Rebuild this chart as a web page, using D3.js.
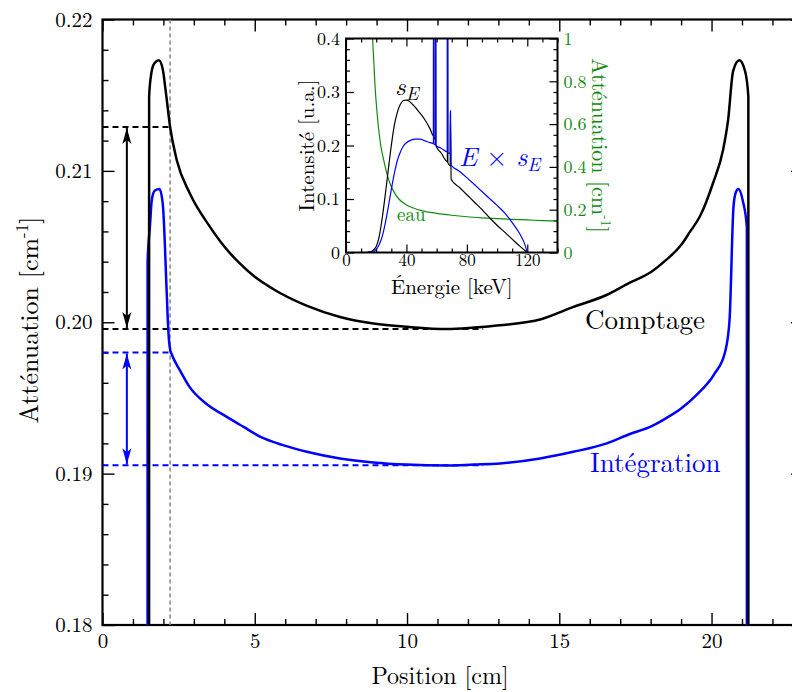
<!DOCTYPE html>
<html><head><meta charset="utf-8">
<script src="https://cdn.jsdelivr.net/npm/d3@7"></script>
<style>
body{margin:0;background:#fff}
svg{display:block}
</style>
</head><body>
<svg id="c" width="792" height="692"></svg>
<script>
// ---------- main chart data: [position cm, attenuation cm^-1] ----------
const comptage = [
  [1.53,0.18],[1.531,0.2149],[1.6,0.2164],[1.7,0.2171],[1.85,0.2173],[1.98,0.2167],[2.08,0.2152],[2.22,0.2129],
  [2.44,0.2107],[2.87,0.2085],[3.53,0.2063],[4.0,0.2050],[4.5,0.2039],[5.0,0.2030],[5.6,0.2022],
  [6.7,0.2011],[7.8,0.20035],[8.9,0.19992],[10.0,0.1997],[11.3,0.19955],[12.2,0.19965],[13.05,0.1998],
  [14.4,0.2002],[15.45,0.2010],[16.55,0.2018],[17.3,0.2026],[18.0,0.2033],[18.5,0.2041],[19.0,0.2051],
  [19.3,0.2060],[19.62,0.2070],[20.05,0.2092],[20.38,0.2114],[20.54,0.2133],[20.71,0.2166],[20.91,0.2173],
  [21.1,0.2166],[21.209,0.2149],[21.21,0.18]
];
const integration = [
  [1.48,0.18],[1.481,0.2040],[1.56,0.2064],[1.62,0.2081],[1.72,0.2087],[1.87,0.2088],[1.98,0.2078],[2.11,0.2019],
  [2.16,0.1995],[2.22,0.1982],[2.27,0.1979],[2.55,0.1968],[2.87,0.1957],[3.42,0.1946],[4.08,0.19375],
  [4.62,0.1931],[5.17,0.19245],[5.6,0.1921],[6.2,0.19172],[6.71,0.19144],[7.8,0.1910],[8.89,0.19074],[9.99,0.1906],
  [11.3,0.19054],[12.18,0.1906],[13.05,0.19067],[14.37,0.1910],[15.46,0.19144],[16.56,0.1920],[17.32,0.19262],
  [18.0,0.1931],[18.5,0.19365],[19.0,0.1943],[19.51,0.1952],[20.1,0.1966],[20.44,0.1980],[20.59,0.2001],
  [20.72,0.2076],[20.8,0.2086],[20.88,0.2088],[21.03,0.2080],[21.159,0.2063],[21.16,0.18]
];
const xMajor = [0,5,10,15,20];
const yMajor = [0.18,0.19,0.20,0.21,0.22];
const edgePosition = 2.22;          // vertical grey dashed marker
const arrowPosition = 0.8;          // where the double arrows sit
const comptageLevels = [0.2129,0.19955];
const integrationLevels = [0.1980,0.19055];
const levelLineEnd = 12.5;

// ---------- inset data: [energy keV, value] ----------
const sE = [
  [13.5,0],[17,0.002],[20,0.011],[22,0.03],[24,0.065],[26,0.108],[28,0.155],[30,0.2],[32,0.238],[34,0.262],
  [36,0.277],[38,0.284],[39.5,0.285],[41,0.284],[44,0.277],[48,0.264],[52,0.249],[55.5,0.232],[57.9,0.218],
  [57.95,0.5],[58.05,0.5],[58.1,0.216],[59.2,0.212],[59.25,0.5],[59.35,0.5],[59.5,0.2],[63,0.186],[67.1,0.17],
  [67.15,0.5],[67.3,0.5],[67.4,0.168],[69.0,0.162],[69.05,0.25],[69.2,0.25],[69.6,0.137],[75,0.122],[80,0.108],
  [85,0.094],[90,0.08],[95,0.065],[100,0.051],[105,0.038],[110,0.025],[115,0.012],[120,0]
];
const EsE = [
  [14,0],[18,0.002],[20,0.006],[22,0.015],[24,0.03],[26,0.055],[28,0.085],[30,0.118],[32,0.148],[34,0.172],
  [36,0.188],[38,0.199],[40,0.205],[43,0.21],[46,0.212],[49,0.212],[52,0.209],[55,0.206],[57.9,0.204],
  [57.95,0.5],[58.05,0.5],[58.1,0.203],[59.2,0.202],[59.25,0.5],[59.35,0.5],[59.5,0.2],[63,0.195],[67.1,0.188],
  [67.15,0.5],[67.3,0.5],[67.4,0.187],[69.0,0.185],[69.05,0.265],[69.2,0.265],[69.4,0.164],[75,0.152],
  [80,0.14],[85,0.127],[90,0.114],[95,0.101],[100,0.088],[105,0.074],[110,0.056],[115,0.035],[118,0.018],[120,0]
];
const waterMu = [
  [17.3,1.05],[17.8,0.97],[18.5,0.88],[19.2,0.78],[20,0.7],[21.4,0.59],[23,0.5],[25,0.43],[27,0.37],[29,0.325],
  [32,0.28],[35,0.25],[40,0.222],[45,0.207],[50,0.196],[60,0.183],[70,0.174],[80,0.167],[90,0.162],
  [100,0.158],[110,0.155],[120,0.152],[130,0.149],[140,0.147]
];
const insetXMajor = [0,40,80,120];
const insetYMajor = [0,0.1,0.2,0.3,0.4];
const insetY2Major = [0,0.2,0.4,0.6,0.8,1];

const FONT = "'Latin Modern Roman', 'Liberation Serif', serif";
const BLUE = "#0000ff", GREEN = "#118a11";
const svg = d3.select("#c");
svg.append("rect").attr("width",792).attr("height",692).attr("fill","#fff");

const x = d3.scaleLinear().domain([0,23]).range([102.5,802.9]);
const y = d3.scaleLinear().domain([0.18,0.22]).range([625,19.5]);

const defs = svg.append("defs");
defs.append("clipPath").attr("id","clipMain")
  .append("rect").attr("x",x(0)).attr("y",y(0.22)).attr("width",x(23)-x(0)).attr("height",y(0.18)-y(0.22));

function arrowMarker(id,color){
  defs.append("marker").attr("id",id).attr("viewBox","0 -5 16 10").attr("refX",16).attr("refY",0)
    .attr("markerWidth",16).attr("markerHeight",10).attr("markerUnits","userSpaceOnUse").attr("orient","auto-start-reverse")
    .append("path").attr("d","M0,-4.5L16,0L0,4.5L4,0Z").attr("fill",color);
}
arrowMarker("arK","#000"); arrowMarker("arB",BLUE);

// ---------- main axes ----------
function styleAxis(g){ g.attr("font-family",null).select(".domain").remove(); g.selectAll(".tick line").attr("stroke","#000").attr("stroke-width",1.4); }
const xMinor = d3.range(0,24,1).filter(v=>!xMajor.includes(v));
const yMinor = d3.range(0,21).map(i=>0.18+i*0.002).filter(v=>Math.abs(Math.round(v*100)-v*100)>1e-6);

svg.append("g").attr("transform",`translate(0,${y(0.18)})`)
  .call(d3.axisBottom(x).tickValues(xMajor).tickSize(-12).tickPadding(8).tickFormat(d3.format("d")))
  .call(styleAxis).selectAll("text").attr("font-size",21).attr("fill","#000");
svg.append("g").attr("transform",`translate(0,${y(0.18)})`)
  .call(d3.axisBottom(x).tickValues(xMinor).tickSize(-6).tickFormat("")).call(styleAxis);
svg.append("g").attr("transform",`translate(0,${y(0.22)})`)
  .call(d3.axisTop(x).tickValues(xMajor).tickSize(-12).tickFormat("")).call(styleAxis);
svg.append("g").attr("transform",`translate(0,${y(0.22)})`)
  .call(d3.axisTop(x).tickValues(xMinor).tickSize(-6).tickFormat("")).call(styleAxis);
svg.append("g").attr("transform",`translate(${x(0)},0)`)
  .call(d3.axisLeft(y).tickValues(yMajor).tickSize(-12).tickPadding(10).tickFormat(d3.format(".2f")))
  .call(styleAxis).selectAll("text").attr("font-size",21).attr("fill","#000");
svg.append("g").attr("transform",`translate(${x(0)},0)`)
  .call(d3.axisLeft(y).tickValues(yMinor).tickSize(-6).tickFormat("")).call(styleAxis);
svg.append("g").attr("transform",`translate(${x(23)},0)`)
  .call(d3.axisRight(y).tickValues(yMajor).tickSize(-12).tickFormat("")).call(styleAxis);
svg.append("g").attr("transform",`translate(${x(23)},0)`)
  .call(d3.axisRight(y).tickValues(yMinor).tickSize(-6).tickFormat("")).call(styleAxis);

svg.append("rect").attr("x",x(0)).attr("y",y(0.22)).attr("width",x(23)-x(0)).attr("height",y(0.18)-y(0.22))
  .attr("fill","none").attr("stroke","#000").attr("stroke-width",2.2);

// axis titles
svg.append("text").attr("x",440).attr("y",684).attr("text-anchor","middle").attr("font-size",24).text("Position [cm]");
const yt = svg.append("text").attr("transform","translate(38,320) rotate(-90)").attr("text-anchor","middle").attr("font-size",26);
yt.append("tspan").text("Atténuation [cm");
yt.append("tspan").attr("font-size",17).attr("dy",-10).text("-1");
yt.append("tspan").attr("dy",10).text("]");

// ---------- reference lines ----------
const main = svg.append("g").attr("clip-path","url(#clipMain)");
main.append("line").attr("x1",x(edgePosition)).attr("x2",x(edgePosition)).attr("y1",y(0.22)).attr("y2",y(0.18))
  .attr("stroke","#8a8a8a").attr("stroke-width",1.6).attr("stroke-dasharray","4,3");
function level(v,xEnd,color){
  main.append("line").attr("x1",x(0)).attr("x2",x(xEnd)).attr("y1",y(v)).attr("y2",y(v))
    .attr("stroke",color).attr("stroke-width",2).attr("stroke-dasharray","6,4");
}
level(comptageLevels[0],edgePosition,"#000");
level(comptageLevels[1],levelLineEnd,"#000");
level(integrationLevels[0],edgePosition,BLUE);
level(integrationLevels[1],levelLineEnd,BLUE);

function dblArrow(levels,color,marker){
  main.append("line").attr("x1",x(arrowPosition)).attr("x2",x(arrowPosition))
    .attr("y1",y(levels[0])+1).attr("y2",y(levels[1])-1)
    .attr("stroke",color).attr("stroke-width",2).attr("marker-start",`url(#${marker})`).attr("marker-end",`url(#${marker})`);
}
dblArrow(comptageLevels,"#000","arK");
dblArrow(integrationLevels,BLUE,"arB");

// curves
const line = d3.line().x(d=>x(d[0])).y(d=>y(d[1])).curve(d3.curveMonotoneX);
main.append("path").datum(integration).attr("d",line).attr("fill","none").attr("stroke",BLUE).attr("stroke-width",2.5).attr("stroke-linejoin","round");
main.append("path").datum(comptage).attr("d",line).attr("fill","none").attr("stroke","#000").attr("stroke-width",2.5).attr("stroke-linejoin","round");

svg.append("text").attr("x",585).attr("y",329).attr("font-size",27).text("Comptage");
svg.append("text").attr("x",590).attr("y",472).attr("font-size",27).attr("fill",BLUE).text("Intégration");

// ---------- inset ----------
const ix = d3.scaleLinear().domain([0,140]).range([346,557.5]);
const iy = d3.scaleLinear().domain([0,0.4]).range([252.5,38.5]);
const iy2 = d3.scaleLinear().domain([0,1]).range([252.5,38.5]);
svg.append("rect").attr("x",ix(0)).attr("y",iy(0.4)).attr("width",ix(140)-ix(0)).attr("height",iy(0)-iy(0.4)).attr("fill","#fff");
defs.append("clipPath").attr("id","clipInset").append("rect")
  .attr("x",ix(0)).attr("y",iy(0.4)).attr("width",ix(140)-ix(0)).attr("height",iy(0)-iy(0.4));

const ixMinor = d3.range(0,141,10).filter(v=>!insetXMajor.includes(v));
const iyMinor = d3.range(0,21).map(i=>i*0.02).filter(v=>Math.abs(Math.round(v*10)-v*10)>1e-6);
const iy2Minor = d3.range(0,21).map(i=>i*0.05).filter(v=>Math.abs(Math.round(v*5)-v*5)>1e-6);
function styleInset(g){ g.attr("font-family",null).select(".domain").remove(); g.selectAll(".tick line").attr("stroke","#000").attr("stroke-width",1.2); }

svg.append("g").attr("transform",`translate(0,${iy(0)})`)
  .call(d3.axisBottom(ix).tickValues(insetXMajor).tickSize(-8).tickPadding(1).tickFormat(d3.format("d")))
  .call(styleInset).selectAll("text").attr("font-size",17).attr("fill","#000");
svg.append("g").attr("transform",`translate(0,${iy(0)})`)
  .call(d3.axisBottom(ix).tickValues(ixMinor).tickSize(-4).tickFormat("")).call(styleInset);
svg.append("g").attr("transform",`translate(0,${iy(0.4)})`)
  .call(d3.axisTop(ix).tickValues(insetXMajor).tickSize(-8).tickFormat("")).call(styleInset);
svg.append("g").attr("transform",`translate(0,${iy(0.4)})`)
  .call(d3.axisTop(ix).tickValues(ixMinor).tickSize(-4).tickFormat("")).call(styleInset);
svg.append("g").attr("transform",`translate(${ix(0)},0)`)
  .call(d3.axisLeft(iy).tickValues(insetYMajor).tickSize(-8).tickPadding(6).tickFormat(d=>d===0?"0":d.toFixed(1)))
  .call(styleInset).selectAll("text").attr("font-size",18).attr("fill","#000");
svg.append("g").attr("transform",`translate(${ix(0)},0)`)
  .call(d3.axisLeft(iy).tickValues(iyMinor).tickSize(-4).tickFormat("")).call(styleInset);
svg.append("g").attr("transform",`translate(${ix(140)},0)`)
  .call(d3.axisRight(iy2).tickValues(insetY2Major).tickSize(-8).tickPadding(6).tickFormat(d=>(d===0||d===1)?String(d):d.toFixed(1)))
  .call(styleInset).selectAll("text").attr("font-size",18).attr("fill",GREEN);
svg.append("g").attr("transform",`translate(${ix(140)},0)`)
  .call(d3.axisRight(iy2).tickValues(iy2Minor).tickSize(-4).tickFormat("")).call(styleInset);

const inset = svg.append("g").attr("clip-path","url(#clipInset)");
const iline = d3.line().x(d=>ix(d[0])).y(d=>iy(d[1])).curve(d3.curveMonotoneX);
const iline2 = d3.line().x(d=>ix(d[0])).y(d=>iy2(d[1])).curve(d3.curveMonotoneX);
inset.append("path").datum(waterMu).attr("d",iline2).attr("fill","none").attr("stroke",GREEN).attr("stroke-width",1.2);
inset.append("path").datum(sE).attr("d",iline).attr("fill","none").attr("stroke","#000").attr("stroke-width",1.2);
inset.append("path").datum(EsE).attr("d",iline).attr("fill","none").attr("stroke",BLUE).attr("stroke-width",1.2);

svg.append("rect").attr("x",ix(0)).attr("y",iy(0.4)).attr("width",ix(140)-ix(0)).attr("height",iy(0)-iy(0.4))
  .attr("fill","none").attr("stroke","#000").attr("stroke-width",2);

// inset titles
svg.append("text").attr("x",(ix(0)+ix(140))/2).attr("y",294).attr("text-anchor","middle").attr("font-size",21).text("Énergie [keV]");
svg.append("text").attr("transform",`translate(314,${(iy(0)+iy(0.4))/2}) rotate(-90)`).attr("text-anchor","middle").attr("font-size",21).text("Intensité [u.a.]");
const rt = svg.append("text").attr("transform",`translate(592,${(iy(0)+iy(0.4))/2}) rotate(90)`).attr("text-anchor","middle").attr("font-size",22).attr("fill",GREEN);
rt.append("tspan").text("Atténuation [cm");
rt.append("tspan").attr("font-size",14).attr("dy",-9).text("-1");
rt.append("tspan").attr("dy",9).text("]");

svg.append("text").attr("x",397).attr("y",221).attr("font-size",19).attr("fill",GREEN).text("eau");
const sl = svg.append("text").attr("x",395).attr("y",95).attr("font-size",26).attr("font-style","italic");
sl.append("tspan").text("s");
sl.append("tspan").attr("font-size",19).attr("dy",5).text("E");
const el = svg.append("text").attr("x",459).attr("y",166).attr("font-size",27).attr("font-style","italic").attr("fill",BLUE);
el.append("tspan").text("E");
el.append("tspan").attr("font-style","normal").text(" × ");
el.append("tspan").text("s");
el.append("tspan").attr("font-size",19).attr("dy",5).text("E");

// serif family on every text node
svg.selectAll("text").style("font-family",FONT);
</script>
</body></html>
